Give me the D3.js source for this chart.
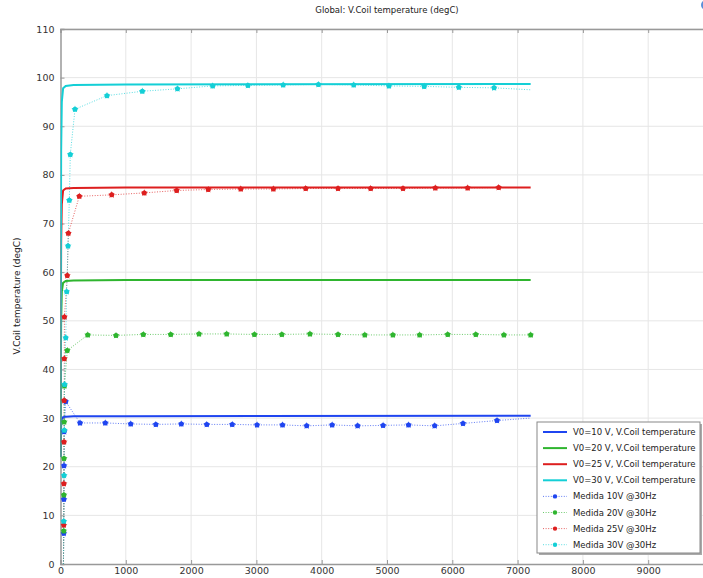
<!DOCTYPE html>
<html><head><meta charset="utf-8">
<script src="https://cdn.jsdelivr.net/npm/d3@7"></script>
<style>
html,body{margin:0;padding:0;background:#fff;}
svg{display:block;font-family:"DejaVu Sans",sans-serif;}
</style></head>
<body>
<script>
// ---- data ----
const xTicks = [0,1000,2000,3000,4000,5000,6000,7000,8000,9000];
const yTicks = [0,10,20,30,40,50,60,70,80,90,100,110];

const simTime = [0, 5, 10, 20, 40, 80, 200, 1000, 7200];
const sim10 = [22, 26, 28.5, 29.8, 30.2, 30.3, 30.4, 30.4, 30.5];
const sim20 = [22, 38, 50, 56, 57.8, 58.2, 58.3, 58.4, 58.4];
const sim25 = [22, 48, 66, 74, 76.8, 77.2, 77.3, 77.4, 77.4];
const sim30 = [22, 60, 85, 95, 97.8, 98.3, 98.5, 98.6, 98.7];

const meas10Time = [45,50,52,54,56,80,299,686,1075,1460,1850,2240,2630,3010,3400,3770,4160,4550,4940,5330,5730,6164,6685,7200];
const meas10 = [0,6.3,13.3,20.2,27.2,33.4,29.0,29.0,28.8,28.7,28.8,28.7,28.7,28.6,28.6,28.4,28.6,28.4,28.5,28.6,28.4,28.9,29.5,30.0];

const meas20Time = [45,50,52,54,56,60,104,417,850,1268,1688,2121,2545,2970,3390,3820,4250,4660,5090,5500,5930,6360,6790,7200];
const meas20 = [0,6.8,14.2,21.7,29.2,36.6,43.9,47.1,47.0,47.2,47.2,47.3,47.3,47.2,47.2,47.3,47.2,47.1,47.1,47.1,47.2,47.2,47.1,47.1];

const meas25Time = [45,50,52,54,56,58,60,104,120,288,784,1283,1779,2263,2760,3260,3755,4250,4750,5245,5740,6235,6710,7200];
const meas25 = [0,8.0,16.5,25.1,33.6,42.2,50.8,59.3,68.0,75.6,75.9,76.3,76.8,77.0,77.1,77.1,77.2,77.2,77.2,77.2,77.3,77.3,77.4,77.4];

const meas30Time = [45,50,55,58,62,80,95,115,135,150,222,712,1253,1791,2330,2870,3410,3950,4490,5030,5570,6100,6640,7200];
const meas30 = [0,8.8,18.2,27.5,36.9,46.5,56.0,65.4,74.8,84.2,93.5,96.3,97.2,97.7,98.3,98.4,98.5,98.6,98.5,98.3,98.2,98.0,97.9,97.5];

const simNames = ["V0=10 V, V.Coil temperature","V0=20 V, V.Coil temperature","V0=25 V, V.Coil temperature","V0=30 V, V.Coil temperature"];
const measNames = ["Medida 10V @30Hz","Medida 20V @30Hz","Medida 25V @30Hz","Medida 30V @30Hz"];

// ---- styles ----
const colors = ["#1f45f0","#2fb52f","#dd1f1f","#14cfd6"];
const W = 703, H = 578;
const pLeft = 60.5, pTop = 29, pBottom = 564, pRight = 713.5;

const svg = d3.select("body").append("svg").attr("width", W).attr("height", H);

const x = d3.scaleLinear().domain([0,10000]).range([pLeft, pRight]);
const y = d3.scaleLinear().domain([0,110]).range([pBottom, pTop]);

svg.append("clipPath").attr("id","clip").append("rect")
  .attr("x", pLeft).attr("y", pTop).attr("width", pRight-pLeft).attr("height", pBottom-pTop);

// grid
const g = svg.append("g");
g.selectAll(null).data(xTicks.slice(1)).enter().append("line")
  .attr("x1", d=>x(d)).attr("x2", d=>x(d)).attr("y1", pTop).attr("y2", pBottom)
  .attr("stroke","#e6e6e6").attr("stroke-width",1);
g.selectAll(null).data(yTicks.slice(1)).enter().append("line")
  .attr("x1", pLeft).attr("x2", pRight).attr("y1", d=>y(d)).attr("y2", d=>y(d))
  .attr("stroke","#e6e6e6").attr("stroke-width",1);

// axes
const xAxis = d3.axisBottom(x).tickValues(xTicks).tickSize(-4).tickPadding(3).tickFormat(d3.format("d"));
const yAxis = d3.axisLeft(y).tickValues(yTicks).tickSize(-4).tickPadding(6).tickFormat(d3.format("d"));
const xa = svg.append("g").attr("transform",`translate(0,${pBottom})`).call(xAxis);
const ya = svg.append("g").attr("transform",`translate(${pLeft},0)`).call(yAxis);
const xt = svg.append("g").attr("transform",`translate(0,${pTop})`).call(d3.axisTop(x).tickValues(xTicks).tickSize(-4).tickFormat(""));
[xa,ya,xt].forEach(a=>{
  a.select(".domain").attr("stroke","#999").attr("stroke-width",1.5);
  a.selectAll(".tick line").attr("stroke","#999");
  a.selectAll(".tick text").attr("fill","#333").style("font-size","9.5px").style("font-family","DejaVu Sans, sans-serif");
});

// title & axis label
svg.append("text").attr("x", 387).attr("y", 13).attr("text-anchor","middle")
  .style("font-size","8.5px").attr("fill","#222").text("Global: V.Coil temperature (degC)");
svg.append("text").attr("transform","translate(20,296) rotate(-90)").attr("text-anchor","middle")
  .style("font-size","9px").attr("fill","#222").text("V.Coil temperature (degC)");

// data
const plot = svg.append("g").attr("clip-path","url(#clip)");
const line = d3.line().x(d=>x(d[0])).y(d=>y(d[1]));
const sims = [sim10, sim20, sim25, sim30];
const meas = [[meas10Time,meas10],[meas20Time,meas20],[meas25Time,meas25],[meas30Time,meas30]];
const endMarker = [false, true, false, false];

meas.forEach((m,i)=>{
  const pts = m[0].map((t,k)=>[t, m[1][k]]);
  plot.append("path").datum(pts).attr("d", line).attr("fill","none")
    .attr("stroke", colors[i]).attr("stroke-width",1).attr("stroke-dasharray","1,1.6").attr("opacity",0.7);
});
sims.forEach((s,i)=>{
  const pts = simTime.map((t,k)=>[t, s[k]]);
  plot.append("path").datum(pts).attr("d", line).attr("fill","none")
    .attr("stroke", colors[i]).attr("stroke-width",2);
});
const star = d3.symbol().type(d3.symbolStar).size(16);
meas.forEach((m,i)=>{
  const pts = m[0].map((t,k)=>[t, m[1][k]]).filter((p,k)=> k>0 && (k < m[0].length-1 || endMarker[i]));
  plot.selectAll(null).data(pts).enter().append("circle")
    .attr("cx", d=>x(d[0])).attr("cy", d=>y(d[1])).attr("r", 2.5)
    .attr("fill", colors[i]);
  plot.selectAll(null).data(pts).enter().append("path")
    .attr("transform", d=>`translate(${x(d[0])},${y(d[1])})`).attr("d", star)
    .attr("fill", colors[i]);
});

// legend
const lg = svg.append("g");
lg.append("rect").attr("x",539).attr("y",424).attr("width",163).attr("height",131).attr("fill","#aaa");
lg.append("rect").attr("x",537).attr("y",422).attr("width",163).attr("height",131)
  .attr("fill","#fff").attr("stroke","#888").attr("stroke-width",1);
const names = simNames.concat(measNames);
names.forEach((n,i)=>{
  const cy = 432 + i*16.1;
  const c = colors[i%4];
  if(i<4){
    lg.append("line").attr("x1",543).attr("x2",567).attr("y1",cy).attr("y2",cy).attr("stroke",c).attr("stroke-width",2);
  } else {
    lg.append("line").attr("x1",543).attr("x2",567).attr("y1",cy).attr("y2",cy).attr("stroke",c)
      .attr("stroke-width",1).attr("stroke-dasharray","1,1.6").attr("opacity",0.7);
    lg.append("circle").attr("cx",555).attr("cy",cy).attr("r",2.2).attr("fill",c);
  }
  lg.append("text").attr("x",573).attr("y",cy+3).style("font-size","8.5px").attr("fill","#222").text(n);
});

// corner icon
svg.append("circle").attr("cx",706).attr("cy",5).attr("r",5).attr("fill","#5b8fd9");
</script>
</body></html>
